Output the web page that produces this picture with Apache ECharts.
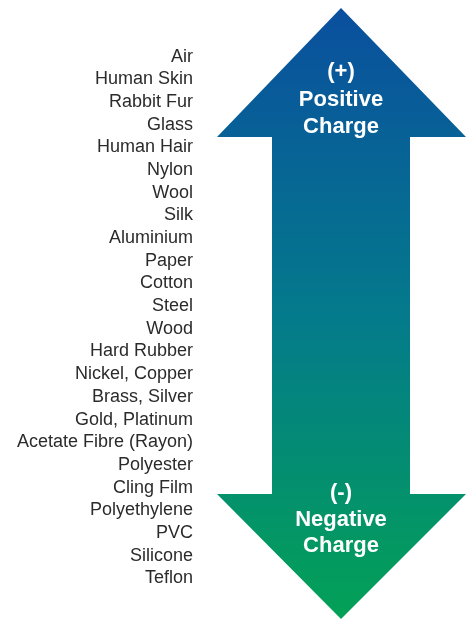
<!DOCTYPE html>
<html>
<head>
<meta charset="utf-8">
<script src="https://cdn.jsdelivr.net/npm/echarts@6/dist/echarts.min.js"></script>
<style>html,body{margin:0;padding:0;background:#fff;}#c{width:469px;height:620px;}</style>
</head>
<body>
<div id="c"></div>
<script>
var materials = ["Air","Human Skin","Rabbit Fur","Glass","Human Hair","Nylon","Wool","Silk","Aluminium","Paper","Cotton","Steel","Wood","Hard Rubber","Nickel, Copper","Brass, Silver","Gold, Platinum","Acetate Fibre (Rayon)","Polyester","Cling Film","Polyethylene","PVC","Silicone","Teflon"];
var positiveLabel = ["(+)","Positive","Charge"];
var negativeLabel = ["(-)","Negative","Charge"];

var chart = echarts.init(document.getElementById('c'), null, {renderer:'canvas'});
var arrowPts = [[341,8],[466,137],[410,137],[410,494],[466,494],[341,619],[217,494],[272,494],[272,137],[217,137]];
var graphics = [{
  type:'polygon', shape:{points:arrowPts}, silent:true, z:1,
  style:{fill:new echarts.graphic.LinearGradient(0,0,0,1,[
    {offset:0,color:'#0a4f9e'},{offset:0.5,color:'#047a8c'},{offset:1,color:'#03a156'}])}
}];
var posY=[72,100,126.5], negY=[493,519.5,546];
var bigFont = 'bold 22px Arial, "Liberation Sans", sans-serif';
positiveLabel.forEach(function(t,i){
  graphics.push({type:'text',x:341,y:posY[i],z:2,silent:true,style:{text:t,fill:'#fff',font:bigFont,textAlign:'center',textVerticalAlign:'middle'}});
});
negativeLabel.forEach(function(t,i){
  graphics.push({type:'text',x:341,y:negY[i],z:2,silent:true,style:{text:t,fill:'#fff',font:bigFont,textAlign:'center',textVerticalAlign:'middle'}});
});
chart.setOption({
  animation:false,
  grid:{left:201,right:10,top:45.2,height:544.5},
  xAxis:{type:'value',show:false,min:0,max:1},
  yAxis:{type:'category',inverse:true,data:materials,
    axisLine:{show:false},axisTick:{show:false},splitLine:{show:false},
    axisLabel:{margin:8,color:'#2b2b2b',fontSize:18,fontFamily:'Arial, "Liberation Sans", sans-serif',interval:0}},
  series:[{type:'scatter',data:materials.map(function(m){return [0,m];}),symbolSize:0,silent:true,itemStyle:{opacity:0}}],
  graphic:graphics
});
</script>
</body>
</html>
